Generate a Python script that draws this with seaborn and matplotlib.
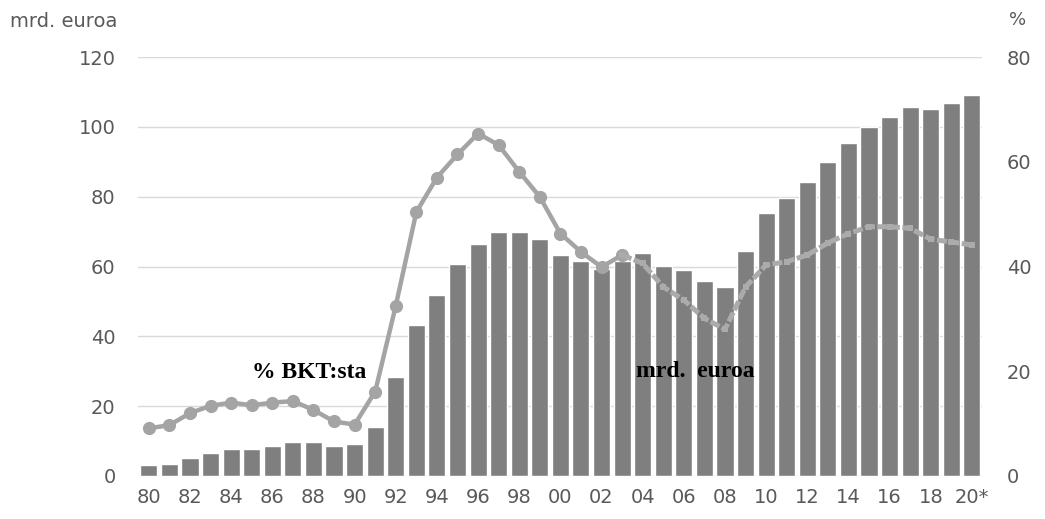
import numpy as np
import pandas as pd
import matplotlib.pyplot as plt
import seaborn as sns

years = list(range(1980, 2021))
tick_labels = ['80', '82', '84', '86', '88', '90', '92', '94', '96', '98', '00',
               '02', '04', '06', '08', '10', '12', '14', '16', '18', '20*']

# mrd. euroa (left axis)
debt_bn = [3.0, 3.4, 5.1, 6.6, 7.7, 7.7, 8.7, 9.6, 9.6, 8.7, 9.2,
           14.0, 28.2, 43.3, 51.7, 60.6, 66.4, 70.0, 70.0, 68.0, 63.2,
           61.7, 59.3, 61.6, 63.8, 60.1, 59.0, 55.9, 54.2, 64.3, 75.3,
           79.6, 84.2, 90.0, 95.3, 100.0, 102.7, 105.7, 105.2, 106.9, 109.0]

# % BKT:sta (right axis)
debt_gdp = [9.1, 9.7, 12.0, 13.4, 14.0, 13.5, 14.0, 14.3, 12.6, 10.4, 9.8,
            16.1, 32.5, 50.4, 57.0, 61.4, 65.4, 63.2, 58.1, 53.3, 46.3,
            42.8, 39.9, 42.2, 40.6, 36.1, 33.6, 30.1, 28.0, 36.1, 40.3,
            40.9, 42.2, 44.5, 46.3, 47.6, 47.6, 47.3, 45.2, 44.7, 44.1]

df = pd.DataFrame({'year': [str(y) for y in years], 'pos': np.arange(len(years)),
                   'bn': debt_bn, 'gdp': debt_gdp})

sns.set_style('white')
plt.rcParams['font.family'] = ['DejaVu Sans']

fig = plt.figure(figsize=(10.45, 5.19), dpi=100)
ax = fig.add_axes([0.132, 0.083, 0.8077, 0.807])

sns.barplot(data=df, x='year', y='bn', color='#7f7f7f', saturation=1,
            width=0.83, ax=ax, zorder=2)
ax.set_ylim(0, 120)
ax.set_yticks(range(0, 121, 20))
ax.yaxis.grid(True, color='#d9d9d9', linewidth=1)
ax.set_axisbelow(True)
ax.set_xlim(-0.53, 40.49)
ax.set_xticks(df['pos'][::2])
ax.set_xticklabels(tick_labels)
ax.set_xlabel('')
ax.set_ylabel('')
ax.tick_params(axis='both', colors='#595959', labelsize=14, length=0, pad=9)
ax.tick_params(axis='y', pad=16)
for s in ax.spines.values():
    s.set_visible(False)

ax2 = ax.twinx()
first = df[df['pos'] <= 23]
second = df[df['pos'] >= 23]
sns.lineplot(data=first, x='pos', y='gdp', color='#a4a4a4', linewidth=3.2,
             marker='o', markersize=9.5, markeredgewidth=0, ax=ax2, zorder=3)
sns.lineplot(data=second, x='pos', y='gdp', color='#ababab', linewidth=3.6,
             marker='s', markersize=5, markeredgewidth=0, linestyle=(0, (2, 0.5)),
             ax=ax2, zorder=3)
ax2.set_ylim(0, 80)
ax2.set_yticks(range(0, 81, 20))
ax2.set_xlim(-0.53, 40.49)
ax2.set_xlabel('')
ax2.set_ylabel('')
ax2.tick_params(axis='y', colors='#595959', labelsize=14, length=0, pad=18)
ax2.grid(False)
for s in ax2.spines.values():
    s.set_visible(False)

fig.text(0.010, 0.958, 'mrd. euroa', color='#595959', fontsize=14, va='center')
fig.text(0.966, 0.962, '%', color='#595959', fontsize=13, va='center')

ax2.text(7.8, 19.8, '% BKT:sta', family='Liberation Serif', fontweight='bold',
         fontsize=17, color='black', ha='center', va='center')
ax2.text(26.55, 20.0, 'mrd.  euroa', family='Liberation Serif', fontweight='bold',
         fontsize=17, color='black', ha='center', va='center')

fig.savefig('out.png', dpi=100)
